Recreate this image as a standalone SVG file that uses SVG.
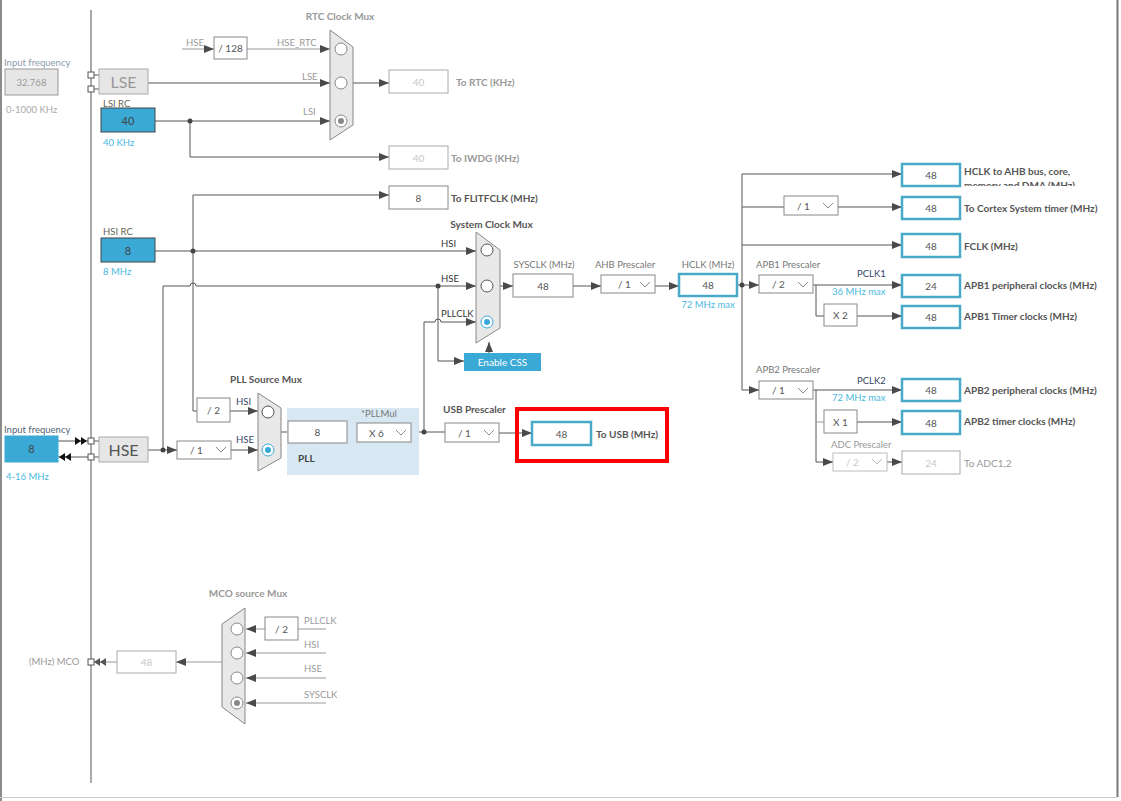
<svg xmlns="http://www.w3.org/2000/svg" width="1121" height="801" viewBox="0 0 1121 801">
<defs>
<marker id="a" markerWidth="10" markerHeight="8" refX="10" refY="4" orient="auto" markerUnits="userSpaceOnUse"><path d="M0,0L10,4L0,8z" fill="#4a4a4a"/></marker>
<clipPath id="clipH"><rect x="960" y="155" width="160" height="31"/></clipPath>
</defs>
<style>
text{font-family:"Lato","Liberation Sans",sans-serif;font-size:9.5px;fill:#666}
.ln{stroke:#555;stroke-width:1;fill:none}
.lg{stroke:#999;stroke-width:1;fill:none}
.box{fill:#fff;stroke:#888;stroke-width:1}
.dbox{fill:#fff;stroke:#aaa;stroke-width:1}
.bbox{fill:#fff;stroke:#4aa8c8;stroke-width:2.5}
.blue{fill:#3aa9d6;stroke:#444;stroke-width:1}
.mux{fill:#e8e8e8;stroke:#888;stroke-width:1}
.grey{fill:#e6e6e6;stroke:#aaa;stroke-width:1}
.c{fill:#fff;stroke:#888;stroke-width:1}
.cd{fill:#fff;stroke:#555;stroke-width:1}
.cb{fill:#fff;stroke:#3aa8d8;stroke-width:1}
.chev{fill:none;stroke:#888;stroke-width:1}
.chevd{fill:none;stroke:#bbb;stroke-width:1}
.sq{fill:#fff;stroke:#555;stroke-width:1}
.dot{fill:#444}
.m{text-anchor:middle}
.v{fill:#555;font-size:10px}
.dv{fill:#c8c8c8;font-size:10px}
.lab{fill:#555;font-weight:bold;font-size:10px}
.labg{fill:#999;font-weight:bold;font-size:10px}
.ttl{fill:#555;font-weight:bold;font-size:10px}
.ttlg{fill:#999;font-weight:bold;font-size:10px}
.bt{fill:#4ab8e0}
.nv{fill:#334466}
.gt{fill:#999}
.g7{fill:#777}
.dk{fill:#333}
.br{fill:#665}
.big{font-size:16px}
.val{font-size:11px;fill:#444}
.wt{fill:#fff;font-size:10px}
</style>
<rect x="0" y="0" width="1121" height="801" fill="#fff"/>
<g id="frame">
<line x1="1" y1="0" x2="1" y2="801" stroke="#666" stroke-width="1.5"/>
<line x1="1117.5" y1="0" x2="1117.5" y2="797" stroke="#777" stroke-width="2"/>
<line x1="0" y1="797.5" x2="1117" y2="797.5" stroke="#ccc" stroke-width="1"/>
<line x1="91" y1="10" x2="91" y2="783" stroke="#555" stroke-width="1"/>
</g>

<g id="connectors">
<path class="ln" d="M94,75H99M94,89H99"/>
<path class="ln" d="M148,83H330" marker-end="url(#a)"/>
<path class="ln" d="M155,121H330" marker-end="url(#a)"/>
<path class="ln" d="M190,121V157H389" marker-end="url(#a)"/>
<path class="lg" d="M182,49H214" marker-end="url(#a)"/>
<path class="lg" d="M247,49H330" marker-end="url(#a)"/>
<path class="ln" d="M353,83H389" marker-end="url(#a)"/>
<path class="ln" d="M193,195H389" marker-end="url(#a)"/>
<path class="ln" d="M193,195V411H197"/>
<path class="ln" d="M155,251H476" marker-end="url(#a)"/>
<path class="ln" d="M163,450V286H190a3,3 0 0 1 6,0H476" marker-end="url(#a)"/>
<path class="ln" d="M438,286V361H464" marker-end="url(#a)"/>
<path class="ln" d="M424,432V322H435a3,3 0 0 1 6,0H476" marker-end="url(#a)"/>
<path class="ln" d="M489,353V342" marker-end="url(#a)"/>
<path class="ln" d="M500,286H513" marker-end="url(#a)"/>
<path class="ln" d="M573,286H601" marker-end="url(#a)"/>
<path class="ln" d="M655,286H679" marker-end="url(#a)"/>
<path class="ln" d="M737,285H759" marker-end="url(#a)"/>
<path class="ln" d="M742,174V390H759" marker-end="url(#a)"/>
<path class="ln" d="M742,174H902" marker-end="url(#a)"/>
<path class="ln" d="M742,207H784"/>
<path class="ln" d="M838,207H902" marker-end="url(#a)"/>
<path class="ln" d="M742,245H902" marker-end="url(#a)"/>
<path class="ln" d="M813,285H902" marker-end="url(#a)"/>
<path class="ln" d="M816,285V316H824"/>
<path class="ln" d="M857,316H902" marker-end="url(#a)"/>
<path class="ln" d="M813,390H902" marker-end="url(#a)"/>
<path class="ln" d="M816,390V462H833" marker-end="url(#a)"/>
<path class="lg" d="M816,422H824"/>
<path class="ln" d="M857,422H902" marker-end="url(#a)"/>
<path class="ln" d="M887,462H902" marker-end="url(#a)"/>
<path class="ln" d="M58,441H88"/>
<path d="M75,437L81,441L75,445zM81,437L87,441L81,445z" fill="#111"/>
<path class="ln" d="M58,457H88"/>
<path d="M65,453L59,457L65,461zM71,453L65,457L71,461z" fill="#111"/>
<path class="ln" d="M94,441H99M94,457H99"/>
<path class="ln" d="M148,450H177" marker-end="url(#a)"/>
<path class="ln" d="M231,450H258" marker-end="url(#a)"/>
<path class="ln" d="M230,411H258" marker-end="url(#a)"/>
<path class="ln" d="M281,432H288M347,432H357"/>
<path class="ln" d="M411,432H445"/>
<path class="ln" d="M499,433H532" marker-end="url(#a)"/>
<path class="lg" d="M326,629H298"/>
<path class="lg" d="M265,629H246" marker-end="url(#a)"/>
<path class="lg" d="M326,653H246" marker-end="url(#a)"/>
<path class="lg" d="M326,678H246" marker-end="url(#a)"/>
<path class="lg" d="M326,703H246" marker-end="url(#a)"/>
<path class="lg" d="M222,662H176" marker-end="url(#a)"/>
<path class="lg" d="M117,662H94"/>
<path d="M100,658L94,662L100,666zM106,658L100,662L106,666z" fill="#555"/>
<circle class="dot" cx="190" cy="121" r="2.5"/>
<circle class="dot" cx="193" cy="251" r="2.5"/>
<circle class="dot" cx="438" cy="286" r="2.5"/>
<circle class="dot" cx="742" cy="285" r="2.5"/>
<circle class="dot" cx="163" cy="450" r="2.5"/>
<circle class="dot" cx="424" cy="432" r="2.5"/>
</g>

<g id="lse-input">
<text x="4" y="66" style="fill:#8c9bab">Input frequency</text>
<rect x="5" y="69" width="53" height="26" class="grey" style="stroke:#999"/>
<text x="31.5" y="86" class="m gt">32.768</text>
<text x="6" y="113" style="fill:#aaa">0-1000 KHz</text>
<rect x="88" y="72" width="6" height="6" class="sq"/>
<rect x="88" y="86" width="6" height="6" class="sq"/>
</g>
<g id="lse">
<rect x="99" y="69" width="49" height="25" class="grey"/>
<text x="123.5" y="88" class="m big gt">LSE</text>
<text x="302" y="80" class="gt">LSE</text>
</g>
<g id="lsi">
<text x="103" y="107" class="br">LSI RC</text>
<rect x="101" y="108" width="54" height="24" class="blue"/>
<text x="128" y="125" class="m val">40</text>
<text x="103" y="146" class="bt">40 KHz</text>
<text x="303" y="115" class="gt">LSI</text>
</g>
<g id="hse-div128">
<text x="186" y="46" class="gt">HSE</text>
<rect x="214" y="37" width="33" height="22" class="box"/>
<text x="230.5" y="52" class="m v">/ 128</text>
<text x="277" y="46" class="gt">HSE_RTC</text>
</g>
<g id="rtc-mux">
<text x="340" y="20" class="m ttlg">RTC Clock Mux</text>
<path d="M330,30L353,47L353,125L330,140Z" class="mux"/>
<circle cx="341" cy="49" r="6" class="c"/>
<circle cx="341" cy="83" r="6" class="c"/>
<circle cx="341" cy="121" r="6" class="c"/>
<circle cx="341" cy="121" r="3" fill="#888"/>
</g>
<g id="to-rtc">
<rect x="389" y="70" width="59" height="23" class="dbox"/>
<text x="418.5" y="85.5" class="m dv">40</text>
<text x="456" y="85.5" class="labg">To RTC (KHz)</text>
</g>
<g id="to-iwdg">
<rect x="389" y="146" width="59" height="23" class="dbox"/>
<text x="418.5" y="161.5" class="m dv">40</text>
<text x="451" y="161.5" class="labg">To IWDG (KHz)</text>
</g>
<g id="to-flitf">
<rect x="389" y="186" width="59" height="23" class="box"/>
<text x="418.5" y="201.5" class="m v">8</text>
<text x="451" y="201.5" class="lab">To FLITFCLK (MHz)</text>
</g>
<g id="hsi">
<text x="103" y="235" class="br">HSI RC</text>
<rect x="101" y="238" width="54" height="24" class="blue"/>
<text x="128" y="255" class="m val">8</text>
<text x="103" y="275" class="bt">8 MHz</text>
</g>
<g id="sys-mux">
<text x="491.5" y="228" class="m ttl">System Clock Mux</text>
<text x="441" y="247" class="dk">HSI</text>
<text x="441" y="282" class="dk">HSE</text>
<text x="441" y="317" class="dk">PLLCLK</text>
<path d="M476,232L500,250L500,328L476,343Z" class="mux"/>
<circle cx="487" cy="250" r="6" class="cd"/>
<circle cx="487" cy="286" r="6" class="cd"/>
<circle cx="487" cy="322" r="6" class="cb"/>
<circle cx="487" cy="322" r="3" fill="#3aa8d8"/>
</g>
<g id="enable-css">
<rect x="464" y="353" width="77" height="18" fill="#3aa9d6"/>
<text x="502.5" y="366" class="m wt">Enable CSS</text>
</g>
<g id="sysclk">
<text x="544" y="268" class="m g7">SYSCLK (MHz)</text>
<rect x="513" y="274" width="60" height="23" class="box"/>
<text x="543" y="289.5" class="m v">48</text>
</g>
<g id="ahb">
<text x="625" y="268" class="m g7">AHB Prescaler</text>
<rect x="601" y="275" width="54" height="18" class="box"/>
<text x="618" y="288" class="v">/ 1</text>
<polyline points="640,282 645,287 650,282" class="chev"/>
</g>
<g id="hclk">
<text x="708" y="268" class="m g7">HCLK (MHz)</text>
<rect x="679" y="274" width="58" height="22" class="bbox"/>
<text x="708" y="289" class="m v">48</text>
<text x="708" y="308" class="m bt">72 MHz max</text>
</g>
<g id="hclk-ahb">
<rect x="902" y="164" width="58" height="22" class="bbox"/>
<text x="931" y="179" class="m v">48</text>
<g clip-path="url(#clipH)">
<text x="964" y="175" class="lab">HCLK to AHB bus, core,</text>
<text x="964" y="189" class="lab">memory and DMA (MHz)</text>
</g>
</g>
<g id="cortex">
<rect x="784" y="196" width="54" height="19" class="box"/>
<text x="797" y="209.5" class="v">/ 1</text>
<polyline points="823,203 828,208 833,203" class="chev"/>
<rect x="902" y="197" width="58" height="22" class="bbox"/>
<text x="931" y="212" class="m v">48</text>
<text x="964" y="212" class="lab">To Cortex System timer (MHz)</text>
</g>
<g id="fclk">
<rect x="902" y="234" width="58" height="23" class="bbox"/>
<text x="931" y="249.5" class="m v">48</text>
<text x="964" y="249.5" class="lab">FCLK (MHz)</text>
</g>
<g id="apb1">
<text x="756" y="268" class="g7">APB1 Prescaler</text>
<rect x="759" y="275" width="54" height="18" class="box"/>
<text x="772" y="288" class="v">/ 2</text>
<polyline points="798,282 803,287 808,282" class="chev"/>
<text x="857" y="277" class="nv">PCLK1</text>
<text x="832" y="295" class="bt">36 MHz max</text>
<rect x="902" y="275" width="58" height="22" class="bbox"/>
<text x="931" y="290" class="m v">24</text>
<text x="964" y="289" class="lab">APB1 peripheral clocks (MHz)</text>
</g>
<g id="apb1-timer">
<rect x="824" y="304" width="33" height="22" class="box"/>
<text x="840.5" y="319" class="m v">X 2</text>
<rect x="902" y="306" width="58" height="22" class="bbox"/>
<text x="931" y="321" class="m v">48</text>
<text x="964" y="320" class="lab">APB1 Timer clocks (MHz)</text>
</g>
<g id="apb2">
<text x="756" y="373" class="g7">APB2 Prescaler</text>
<rect x="759" y="381" width="54" height="18" class="box"/>
<text x="772" y="394" class="v">/ 1</text>
<polyline points="798,388 803,393 808,388" class="chev"/>
<text x="857" y="384" class="nv">PCLK2</text>
<text x="832" y="401" class="bt">72 MHz max</text>
<rect x="902" y="379" width="58" height="22" class="bbox"/>
<text x="931" y="394" class="m v">48</text>
<text x="964" y="393.5" class="lab">APB2 peripheral clocks (MHz)</text>
</g>
<g id="apb2-timer">
<rect x="824" y="410" width="33" height="23" class="box"/>
<text x="840.5" y="425.5" class="m v">X 1</text>
<rect x="902" y="411" width="58" height="23" class="bbox"/>
<text x="931" y="426.5" class="m v">48</text>
<text x="964" y="424.5" class="lab">APB2 timer clocks (MHz)</text>
</g>
<g id="adc">
<text x="831" y="448" class="gt">ADC Prescaler</text>
<rect x="833" y="453" width="54" height="18" class="dbox" style="stroke:#bbb"/>
<text x="846" y="466" class="dv">/ 2</text>
<polyline points="872,459 877,464 882,459" class="chevd"/>
<rect x="902" y="451" width="58" height="23" class="dbox"/>
<text x="931" y="466.5" class="m dv">24</text>
<text x="964" y="467" class="gt" style="font-size:10px">To ADC1,2</text>
</g>
<g id="hse-input">
<text x="4" y="433" style="fill:#556677">Input frequency</text>
<rect x="5" y="436" width="53" height="26" class="blue" style="stroke:#3aa9d6"/>
<text x="31.5" y="453" class="m val">8</text>
<text x="6" y="480" class="bt">4-16 MHz</text>
<rect x="88" y="438" width="6" height="6" class="sq"/>
<rect x="88" y="454" width="6" height="6" class="sq"/>
</g>
<g id="hse">
<rect x="99" y="437" width="49" height="25" class="grey"/>
<text x="123.5" y="455.5" class="m big" style="fill:#555">HSE</text>
</g>
<g id="hse-prediv">
<rect x="177" y="441" width="54" height="18" class="box"/>
<text x="190" y="454" class="v">/ 1</text>
<polyline points="216,447 221,452 226,447" class="chev"/>
</g>
<g id="hsi-div2">
<rect x="197" y="398" width="33" height="24" class="box"/>
<text x="213.5" y="414" class="m v">/ 2</text>
</g>
<g id="pll-mux">
<text x="266" y="383" class="m ttl">PLL Source Mux</text>
<text x="236" y="405" class="nv">HSI</text>
<text x="236" y="443" class="nv">HSE</text>
<path d="M258,393L281,408L281,458L258,471Z" class="mux"/>
<circle cx="268" cy="412" r="6" class="cd"/>
<circle cx="268" cy="450" r="6" class="cb"/>
<circle cx="268" cy="450" r="3" fill="#3aa8d8"/>
</g>
<g id="pll">
<rect x="287" y="408" width="132" height="67" fill="#d8e8f2"/>
<text x="298" y="462" class="ttl" style="fill:#444">PLL</text>
<rect x="288" y="421" width="59" height="22" class="box"/>
<text x="317.5" y="436" class="m v">8</text>
<text x="361" y="417" class="g7">*PLLMul</text>
<rect x="357" y="423" width="54" height="19" class="box"/>
<text x="369" y="436.5" class="v">X 6</text>
<polyline points="396,430 401,435 406,430" class="chev"/>
</g>
<g id="usb-prescaler">
<text x="443" y="413" class="ttl">USB Prescaler</text>
<rect x="445" y="423" width="54" height="19" class="box"/>
<text x="458" y="436.5" class="v">/ 1</text>
<polyline points="484,430 489,435 494,430" class="chev"/>
</g>
<g id="usb">
<rect x="532" y="422" width="59" height="23" class="bbox"/>
<text x="561.5" y="437.5" class="m v">48</text>
<text x="596" y="438" class="lab">To USB (MHz)</text>
<rect x="517" y="409" width="150" height="52" fill="none" stroke="#f00" stroke-width="4"/>
</g>
<g id="mco-mux">
<text x="248" y="597" class="m ttlg">MCO source Mux</text>
<path d="M222,624L245,608L245,724L222,707Z" class="mux"/>
<circle cx="237" cy="629" r="6" class="c"/>
<circle cx="237" cy="653" r="6" class="c"/>
<circle cx="237" cy="678" r="6" class="c"/>
<circle cx="237" cy="703" r="6" class="c"/>
<circle cx="237" cy="703" r="3" fill="#888"/>
<rect x="265" y="617" width="33" height="23" class="box"/>
<text x="281.5" y="632.5" class="m v">/ 2</text>
<text x="304" y="624" class="gt">PLLCLK</text>
<text x="304" y="648" class="gt">HSI</text>
<text x="304" y="672" class="gt">HSE</text>
<text x="304" y="698" class="gt">SYSCLK</text>
</g>
<g id="mco">
<rect x="117" y="651" width="59" height="22" class="dbox"/>
<text x="146.5" y="666" class="m dv">48</text>
<rect x="88" y="659" width="6" height="6" class="sq"/>
<text x="29" y="665" class="gt">(MHz) MCO</text>
</g>
</svg>
